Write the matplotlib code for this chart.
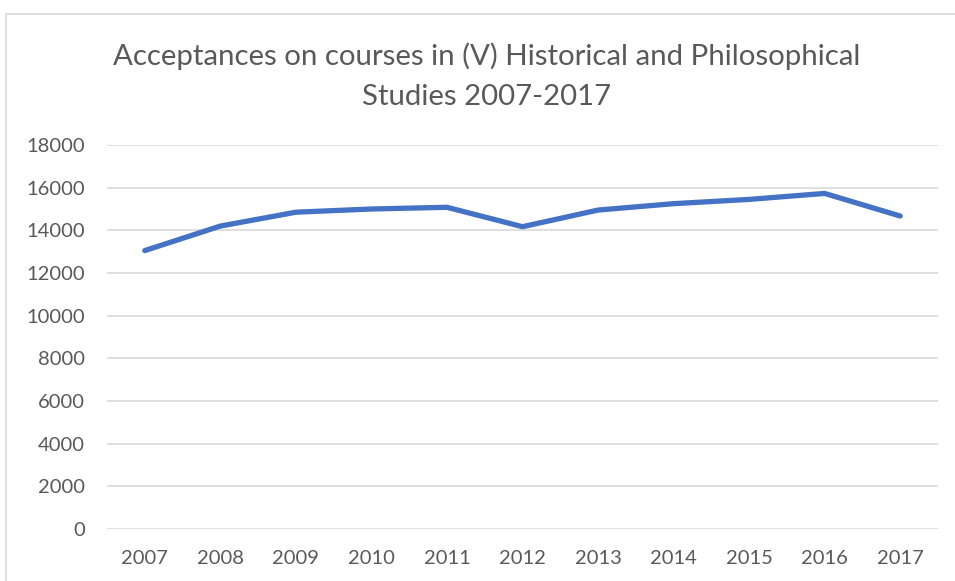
import matplotlib
matplotlib.use("Agg")
import matplotlib.pyplot as plt
from matplotlib.patches import Rectangle

years = ["2007", "2008", "2009", "2010", "2011", "2012", "2013", "2014", "2015", "2016", "2017"]
acceptances = [13050, 14200, 14850, 15000, 15080, 14170, 14950, 15250, 15450, 15730, 14670]
yticks = [0, 2000, 4000, 6000, 8000, 10000, 12000, 14000, 16000, 18000]

plt.rcParams['font.family'] = ['Lato', 'DejaVu Sans']

W, H = 955, 581
fig = plt.figure(figsize=(W/100, H/100), dpi=100)
fig.patches.append(Rectangle((6/W, -0.1), 1.2, 1.1 - 14/H, transform=fig.transFigure,
                             fill=False, edgecolor='#D9D9D9', linewidth=1.2))

ax = fig.add_axes([107/W, 1 - 529/H, (938-107)/W, (529-145)/H])
x = list(range(len(years)))
ax.plot(x, acceptances, color='#4472C4', linewidth=3.8, solid_capstyle='round', solid_joinstyle='round')
ax.set_xlim(-0.5, len(years) - 0.5)
ax.set_ylim(0, 18000)
ax.set_yticks(yticks)
ax.set_yticklabels([str(v) for v in yticks])
ax.set_xticks(x)
ax.set_xticklabels(years)
ax.grid(axis='y', color='#D9D9D9', linewidth=1.2)
ax.set_axisbelow(True)
for s in ax.spines.values():
    s.set_visible(False)
ax.tick_params(axis='both', length=0, labelsize=14.5, labelcolor='#595959')
ax.tick_params(axis='y', pad=16)
ax.tick_params(axis='x', pad=15)

fig.text(487/W, 1 - 56/H, "Acceptances on courses in (V) Historical and Philosophical", ha='center', va='center',
         fontsize=21.2, color='#595959')
fig.text(487/W, 1 - 97/H, "Studies 2007-2017", ha='center', va='center', fontsize=21.2, color='#595959')

fig.savefig("out.png", dpi=100)
